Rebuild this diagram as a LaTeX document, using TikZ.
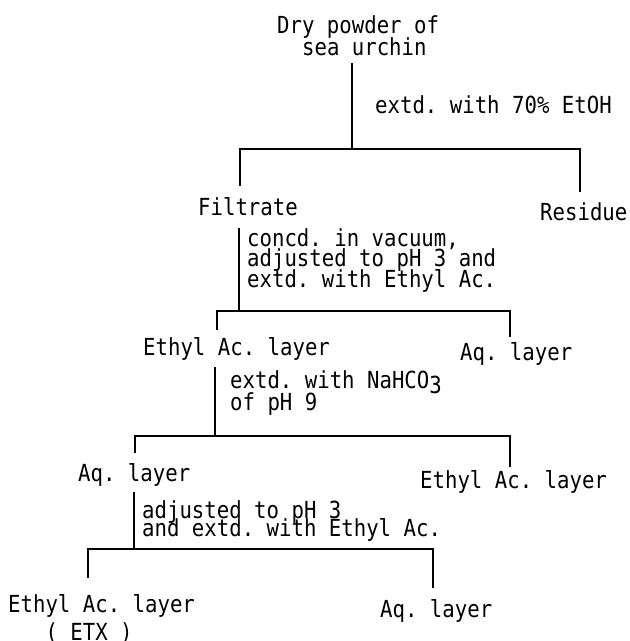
\documentclass[tikz,border=0pt]{standalone}
\usepackage{fontspec}
\newfontfamily\flowfont[FakeStretch=0.88]{DejaVu Sans Mono}
\usetikzlibrary{positioning}

\begin{document}
\frenchspacing
\begin{tikzpicture}[x=1pt, y=-1pt,
        stage/.style={
            anchor=base west, inner sep=0pt, align=left,
            font={\flowfont\fontsize{23.5}{22}\selectfont\lineskiplimit=-30pt}
        },
        note/.style={stage, font={\flowfont\fontsize{23.5}{20.5}\selectfont\lineskiplimit=-30pt}},
        link/.style={line width=1.3pt}
    ]
        \useasboundingbox (0,0) rectangle (630,641);

        % fractions (base = last line)
        \node[stage] (dry) at (277,55) {Dry powder of\\~~sea urchin};
        \node[stage] (fil) at (198,215) {Filtrate};
        \node[stage] (res) at (540,220) {Residue};
        \node[stage] (eth1) at (143,355) {Ethyl Ac. layer};
        \node[stage] (aq1) at (460,360) {Aq. layer};
        \node[stage] (aq2) at (78,481) {Aq. layer};
        \node[stage] (eth2) at (420,488) {Ethyl Ac. layer};
        \node[stage] (eth3) at (8,640) {Ethyl Ac. layer\\[6pt]~~~( ETX )};
        \node[stage] (aq3) at (380,617) {Aq. layer};

        % treatments
        \node[note] (n1) at (375,113) {extd. with 70\% EtOH};
        \node[note] (n2) at (247,287) {concd. in vacuum,\\adjusted to pH 3 and\\extd. with Ethyl Ac.};
        \node[note, font={\flowfont\fontsize{23.5}{22}\selectfont\lineskiplimit=-30pt}] (n3) at (230,410)
            {extd. with NaHCO\smash{\raisebox{-5pt}{3}}\\of pH 9};
        \node[note, font={\flowfont\fontsize{23.5}{18}\selectfont\lineskiplimit=-30pt}] (n4) at (142,536)
            {adjusted to pH 3\\and extd. with Ethyl Ac.};

        % splits
        \coordinate (dry-s) at (352,63);  \coordinate (j1) at (352,149);
        \coordinate (fil-t) at (240,186); \coordinate (res-t) at (580,192);
        \draw[link] (dry-s) -- (j1);
        \draw[link] (fil-t) |- (j1) -| (res-t);

        \coordinate (fil-s) at (239,228);  \coordinate (j2) at (239,311);
        \coordinate (eth1-t) at (217,330); \coordinate (aq1-t) at (510,337);
        \draw[link] (fil-s) -- (j2);
        \draw[link] (eth1-t) |- (j2) -| (aq1-t);

        \coordinate (eth1-s) at (215,367); \coordinate (j3) at (215,436);
        \coordinate (aq2-t) at (135,453);  \coordinate (eth2-t) at (510,467);
        \draw[link] (eth1-s) -- (j3);
        \draw[link] (aq2-t) |- (j3) -| (eth2-t);

        \coordinate (aq2-s) at (134,492);  \coordinate (j4) at (134,549);
        \coordinate (eth3-t) at (88,578);  \coordinate (aq3-t) at (433,588);
        \draw[link] (aq2-s) -- (j4);
        \draw[link] (eth3-t) |- (j4) -| (aq3-t);
    \end{tikzpicture}
\end{document}
